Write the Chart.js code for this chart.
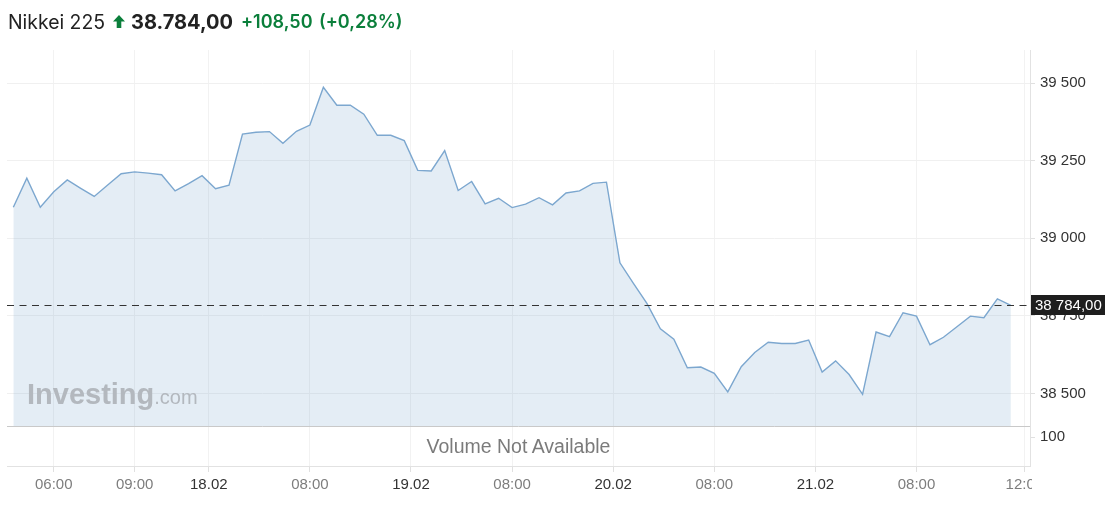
<!DOCTYPE html>
<html>
<head>
<meta charset="utf-8">
<script src="https://cdn.jsdelivr.net/npm/chart.js@4.4.1/dist/chart.umd.min.js"></script>
<style>
html,body{margin:0;padding:0;background:#fff;}
#wrap{position:relative;width:1114px;height:508px;overflow:hidden;font-family:"Liberation Sans",Arial,sans-serif;}
#c{position:absolute;left:0;top:0;}
.t{position:absolute;top:10px;line-height:24px;font-family:Inter,"Open Sans",sans-serif;font-size:19px;white-space:nowrap;}
#name{left:8px;color:#222;font-weight:400;font-size:19.4px;}
#arrow{position:absolute;left:113px;top:15px;}
#price{left:131px;color:#222;font-weight:700;font-size:20px;}
#chg{left:241px;color:#0b7f3b;font-weight:600;font-size:18px;}
#pct{left:319px;color:#0b7f3b;font-weight:600;font-size:18px;}
#wm{position:absolute;left:27px;top:380px;line-height:29px;color:#b3b8be;white-space:nowrap;}
#wm b{font-size:29px;font-weight:700;letter-spacing:0px;}
#wm span{font-size:20px;}
#vol{position:absolute;left:7px;width:1023px;top:426px;height:40px;line-height:40px;text-align:center;font-size:19.5px;color:#7b7b7b;}
</style>
</head>
<body>
<div id="wrap">
  <canvas id="c" width="1114" height="508"></canvas>
  <div class="t" id="name">Nikkei 225</div>
  <svg id="arrow" width="12" height="13" viewBox="0 0 12 13"><path d="M6 0 L12 6.5 L8.3 6.5 L8.3 13 L3.7 13 L3.7 6.5 L0 6.5 Z" fill="#0b7f3b"/></svg>
  <div class="t" id="price">38.784,00</div>
  <div class="t" id="chg">+108,50</div>
  <div class="t" id="pct">(+0,28%)</div>
  <div id="wm"><b>Investing</b><span>.com</span></div>
  <div id="vol">Volume Not Available</div>
</div>
<script>
// ---- data ----
const prices = [
  39100, 39194, 39100, 39150, 39188, 39161, 39135, 39172, 39208, 39214,
  39210, 39205, 39153, 39176, 39202, 39160, 39171, 39336, 39342, 39344,
  39306, 39345, 39365, 39487, 39429, 39429, 39400, 39332, 39332, 39315,
  39219, 39217, 39283, 39154, 39183, 39111, 39129, 39099, 39110, 39131,
  39108, 39146, 39153, 39177, 39181, 38921, 38855, 38790, 38708, 38675,
  38583, 38585, 38565, 38505, 38586, 38632, 38665, 38661, 38661, 38672,
  38569, 38605, 38561, 38497, 38698, 38683, 38760, 38749, 38657, 38681,
  38715, 38749, 38744, 38805, 38784
];
const xTickPositions = [3, 9, 14.5, 22, 29.5, 37, 44.5, 52, 59.5, 67, 75];
const xTickLabels = ['06:00', '09:00', '18.02', '08:00', '19.02', '08:00', '20.02', '08:00', '21.02', '08:00', '12:00'];
const priceTicks = [38500, 38750, 39000, 39250, 39500];
const volumeTicks = [100];
const lastPrice = 38784.00;

const fmtThousands = v => String(v).replace(/\B(?=(\d{3})+(?!\d))/g, ' ');
const fmtPrice = v => fmtThousands(Math.floor(v)) + ',' + (v % 1).toFixed(2).slice(2);

const tickFont = {family: 'Liberation Sans, Arial, sans-serif', size: 15};

const overlay = {
  id: 'overlay',
  afterDatasetsDraw(chart) {
    const ctx = chart.ctx, ca = chart.chartArea, ys = chart.scales.y;
    const yp = Math.round(ys.getPixelForValue(lastPrice)) + 0.5;
    ctx.save();
    ctx.strokeStyle = '#333';
    ctx.lineWidth = 1;
    ctx.setLineDash([7, 5.5]);
    ctx.beginPath();
    ctx.moveTo(ca.left, yp);
    ctx.lineTo(ca.right, yp);
    ctx.stroke();
    ctx.restore();
  },
  afterDraw(chart) {
    const ctx = chart.ctx, ca = chart.chartArea, ys = chart.scales.y;
    ctx.save();
    // pane separator
    const sep = Math.round(ys.bottom) + 0.5;
    ctx.strokeStyle = '#c9c9c9';
    ctx.lineWidth = 1;
    ctx.beginPath();
    ctx.moveTo(ca.left, sep);
    ctx.lineTo(ca.right, sep);
    ctx.stroke();
    // clip the last x label at the plot edge
    ctx.fillStyle = '#fff';
    ctx.fillRect(ca.right + 2, ca.bottom + 8, chart.width - ca.right, chart.height - ca.bottom);
    // last price label
    const yp = ys.getPixelForValue(lastPrice);
    ctx.fillStyle = '#1e1e1e';
    ctx.fillRect(ca.right + 1, Math.round(yp) - 10, 74, 20);
    ctx.fillStyle = '#fff';
    ctx.font = '15px "Liberation Sans", Arial, sans-serif';
    ctx.textBaseline = 'middle';
    ctx.textAlign = 'left';
    ctx.fillText(fmtPrice(lastPrice), ca.right + 5, Math.round(yp) + 0.5);
    ctx.restore();
  }
};

new Chart(document.getElementById('c'), {
  type: 'line',
  data: {
    datasets: [{
      data: prices.map((v, i) => ({x: i, y: v})),
      borderColor: '#7ca7cf',
      borderWidth: 1.4,
      backgroundColor: 'rgba(120,165,205,0.2)',
      fill: 'start',
      pointRadius: 0,
      tension: 0,
      xAxisID: 'x',
      yAxisID: 'y'
    }]
  },
  options: {
    responsive: false,
    animation: false,
    devicePixelRatio: 1,
    events: [],
    layout: {padding: {top: 50, left: 7, right: 0, bottom: 0}},
    plugins: {legend: {display: false}, tooltip: {enabled: false}},
    scales: {
      x: {
        type: 'linear',
        min: -0.47,
        max: 75.42,
        afterBuildTicks: s => { s.ticks = xTickPositions.map(v => ({value: v})); },
        afterFit: s => { s.height = 42; },
        grid: {color: '#f2f2f2', tickColor: '#e0e0e0', tickLength: 6},
        border: {color: '#e2e2e2'},
        ticks: {
          autoSkip: false, maxRotation: 0, padding: 4, font: tickFont,
          color: c => (xTickLabels[c.index] || '').includes('.') ? '#333' : '#7d7d7d',
          callback: (v, i) => xTickLabels[i]
        }
      },
      y: {
        position: 'right',
        stack: 'v',
        stackWeight: 376,
        min: 38395,
        max: 39607,
        afterBuildTicks: s => { s.ticks = priceTicks.map(v => ({value: v})); },
        afterFit: s => { s.width = 84; },
        grid: {color: '#f0f0f0', tickColor: '#e0e0e0', tickLength: 5},
        border: {color: '#e2e2e2'},
        ticks: {padding: 5, font: tickFont, color: '#333', callback: v => fmtThousands(v)}
      },
      yv: {
        position: 'right',
        stack: 'v',
        stackWeight: 40,
        min: 0,
        max: 138,
        afterBuildTicks: s => { s.ticks = volumeTicks.map(v => ({value: v})); },
        afterFit: s => { s.width = 84; },
        grid: {drawOnChartArea: false, tickColor: '#e0e0e0', tickLength: 5},
        border: {color: '#e2e2e2'},
        ticks: {padding: 5, font: tickFont, color: '#333', callback: v => fmtThousands(v)}
      }
    }
  },
  plugins: [overlay]
});
</script>
</body>
</html>
